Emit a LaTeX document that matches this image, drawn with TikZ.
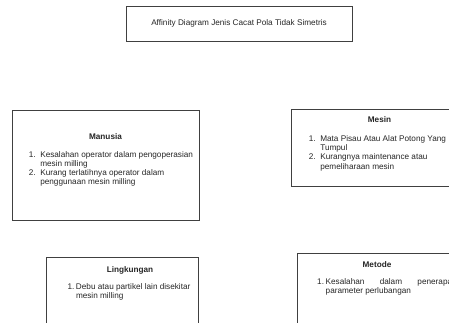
\documentclass[tikz,border=0pt]{standalone}
\usepackage{fontspec}
\setmainfont{Liberation Sans}
\usetikzlibrary{positioning}

\begin{document}
\begin{tikzpicture}[x=1pt, y=-1pt, line width=1pt]

    % Define styles
    \tikzstyle{box} = [draw=black!75, rectangle, inner sep=0pt]
    \tikzstyle{heading} = [font=\fontsize{8.2}{9.2}\selectfont\bfseries, text=black!85, inner sep=0pt, anchor=base]
    \tikzstyle{items} = [font=\fontsize{8.2}{9.2}\selectfont, text=black!85, inner sep=0pt, anchor=base west]

    % Page
    \clip (0,0) rectangle (449,322);
    \fill[white] (0,0) rectangle (449,322);

    % Draw boxes
    \node[box, minimum width=226pt, minimum height=35pt, font=\fontsize{8.2}{9.2}\selectfont, text=black!85] (title) at (239,23.5) {Affinity Diagram Jenis Cacat Pola Tidak Simetris};
    \node[box, minimum width=187pt, minimum height=110pt] (manusia) at (105.5,165) {};
    \node[box, minimum width=175pt, minimum height=77pt] (mesin) at (378.5,147.5) {};
    \node[box, minimum width=152pt, minimum height=84pt] (lingkungan) at (122,299) {};
    \node[box, minimum width=160pt, minimum height=84pt] (metode) at (377,295) {};

    % Headings
    \node[heading] (manusiaHead) at (105.5,139) {Manusia};
    \node[heading] (mesinHead) at (379.5,122.5) {Mesin};
    \node[heading] (lingkunganHead) at (130,272.5) {Lingkungan};
    \node[heading] (metodeHead) at (377,267.5) {Metode};

    % Lists
    \node[items] (manusiaList) at (28.3,157) {\begin{tabular}[t]{@{}p{11.5pt}@{}l@{}}
        1. & Kesalahan operator dalam pengoperasian\\
           & mesin milling\\
        2. & Kurang terlatihnya operator dalam\\
           & penggunaan mesin milling
    \end{tabular}};
    \node[items] (mesinList) at (308.3,141.5) {\begin{tabular}[t]{@{}p{11.5pt}@{}l@{}}
        1. & Mata Pisau Atau Alat Potong Yang\\
           & Tumpul\\
        2. & Kurangnya maintenance atau\\
           & pemeliharaan mesin
    \end{tabular}};
    \node[items] (lingkunganList) at (67,289) {\begin{tabular}[t]{@{}p{8.5pt}@{}l@{}}
        1. & Debu atau partikel lain disekitar\\
           & mesin milling
    \end{tabular}};
    \node[items] (metodeList) at (316.7,284.5) {\begin{tabular}[t]{@{}p{8.5pt}@{}l@{}}
        1. & \makebox[131pt][s]{Kesalahan dalam penerapan}\\
           & parameter perlubangan
    \end{tabular}};

\end{tikzpicture}
\end{document}
